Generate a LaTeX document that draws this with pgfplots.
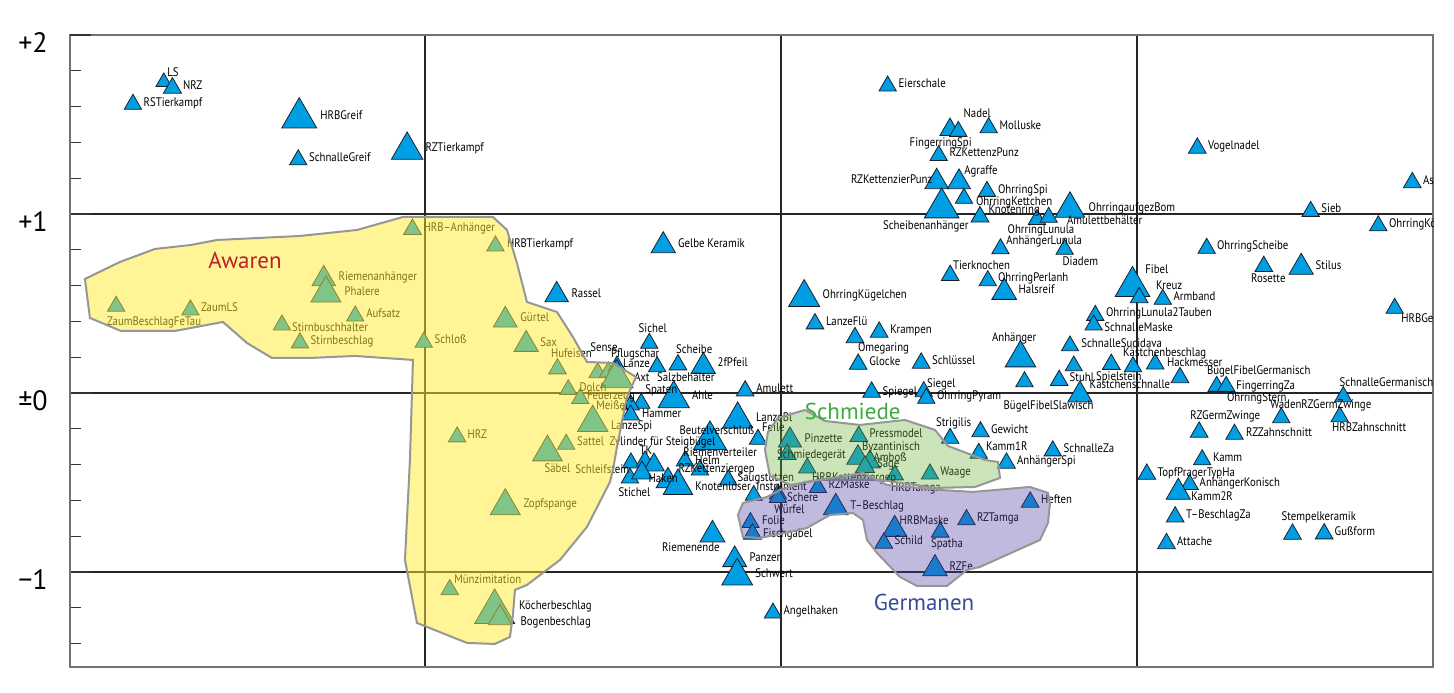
\documentclass[border=0pt]{standalone}
\usepackage{pgfplots}
\pgfplotsset{compat=1.18}
\usepackage{pgfplotstable}
\usepackage{fontspec}
\setmainfont{PT Sans}
\newfontfamily\labfont[FakeStretch=0.87]{PT Sans}

\definecolor{triblue}{RGB}{0,159,227}
\definecolor{outl}{RGB}{25,30,45}
\definecolor{awfill}{RGB}{255,235,45}
\definecolor{smfill}{RGB}{107,178,55}
\definecolor{gmfill}{RGB}{75,60,160}
\definecolor{regedge}{RGB}{150,150,150}
\definecolor{awtext}{RGB}{190,30,40}
\definecolor{smtext}{RGB}{60,170,60}
\definecolor{gmtext}{RGB}{55,75,155}

% positions measured on the reference (pixels), converted by the filters below
\pgfplotstableread{
x y r
163.8 82 4.5
172.5 88 5.2
133 104.3 5
299.3 117.9 10.1
298.3 159.8 5
407.2 150.2 9.1
887.7 86 5
950 129.7 5.8
958.3 131.4 5
988.7 127.7 5
938.7 155.5 5
936.7 181.9 6.8
959 182.1 6.6
987 191.4 5
964 198.3 5
941.7 207.9 10
980 216.9 5.2
1037 219.5 5
1048.7 217.3 5
1070 208.8 8.5
1197.3 148.1 5.1
1310.7 211.4 5
1412.3 182.6 5.1
1378.3 225.8 5
116.2 306.2 5
190.5 310 5
323.8 279 6.8
326 293.4 8.7
355.3 316 5
282 325 5
300 342.9 5
412.5 229.4 5.2
495.5 246 5
663.3 245.7 7
556.7 295 6.8
505.3 320.2 6.9
526.2 344.4 7
423.8 342.2 5
557.5 368.8 5.1
597.7 372.7 5
608.3 372 5
617 366 5
616.7 378.3 9.4
568.3 389.5 4.9
580.3 398.5 5
592.8 422.8 8.8
457.2 436.9 5
566.2 444.2 5
547.5 452.3 8.6
505.3 506.1 8.7
449.8 589.8 5.1
494.7 612 11.5
500 618 6.8
804.2 297.6 9
815 323.8 5.1
879.2 332.1 5.1
855 337.6 5.1
858.2 364.2 5.1
921.2 363.1 5.1
950.2 275.4 5.1
987.8 280.7 5
1004.2 292.3 7.1
1000.5 248.8 5
1064.7 249.3 5
1020.5 358.1 8.8
1024.5 381.7 5
1059.2 380.4 5.1
1070 345.8 4.9
1073.8 365.8 4.9
1080 395 7
1206.7 248.3 5
1263.8 266.4 5.1
1301.2 267.3 7
1394.7 308.3 5
1441 276 5
1132.5 286.5 10
1139.2 297.6 5.1
1162.8 299.3 5
1095.3 315.4 5
1093.7 325 5
1133 366.7 5
1111.3 364.3 5.1
1155.2 364 5.1
1180 377.6 5.1
1216.7 386.4 5
1226.2 386.4 5
1343.3 396.7 5
1281.3 417.7 5
1339.7 416.7 5
1199.2 432.1 5.1
1234.5 434.2 5
1202.2 459.8 5
1052.8 450.9 5
1146.8 474.2 5.1
1189.7 484.5 5
1178.3 492.3 7
1175.2 516.9 5.1
1166.5 543.6 5.1
1292.5 534.2 5.1
1324.2 533.8 5.1
930 474 5
1006.5 463.1 5.1
818 487.6 5
895 475 4.9
778 494 5
778 497.6 5
750.5 522.6 5
752.5 534 5.2
835.8 507.6 7.1
894.7 529.4 7
883.8 543.1 5.1
940.2 532.1 5.1
966.5 519.8 5.1
1030.2 502.1 5.1
935 568.8 7.1
734.7 559.8 6.9
737.2 576.1 8.9
773 613.1 5
790 440.4 6.7
787.2 454.4 5.2
858.8 436.4 5.1
858 457.8 6.5
870 462 6
865 467 5.5
807.3 468 5
950.2 438.3 5
980.5 431.7 5
978.8 453.3 5
923.8 391.7 5
926.3 398.3 5
871.7 392.1 5.1
745.2 390.9 5.1
737.7 419.4 8.7
758 439.3 5
710 440 9.5
712.5 534.8 7.2
649.3 343.3 5
678 364.8 5.1
703.3 366.4 7
657.2 366.7 5
673.8 398.8 9
641.3 403.3 5
630.7 405 5
630.7 415 5
728.3 480 5
753.8 495.3 4.9
631 463 5
645 461 5
654 465 6
630 478 5
642 473 6
668 481 6.8
678 486 8.5
685 461 5
700 470 5
}\tris

\pgfplotstableread[col sep=comma]{
x,y,t
167,72,LS
182.7,85,NRZ
143.3,102.3,RSTierkampf
320,115.3,HRBGreif
308.7,157,SchnalleGreif
425.3,147,RZTierkampf
898.3,83.3,Eierschale
963.3,113.3,Nadel
909.3,142.3,FingerringSpi
999.3,125.3,Molluske
949.3,152.3,RZKettenzPunz
850.7,179.3,RZKettenzierPunz
964,170.3,Agraffe
997.7,189.3,OhrringSpi
975.7,201.3,OhrringKettchen
882.7,225.3,Scheibenanhänger
988.3,209.3,Knotenring
1007.3,229.3,OhrringLunula
1066.7,220,Amulettbehälter
1088.3,206.7,OhrringaufgezBom
1207.7,145.3,Vogelnadel
1321,208.3,Sieb
1422.7,180,As
1388.7,223.3,OhrringKö
106.7,321,ZaumBeschlagFeTau
200.7,307.3,ZaumLS
338.3,276,Riemenanhänger
344.3,291.3,Phalere
366,313.3,Aufsatz
291.7,327.3,Stirnbuschhalter
310.3,340.3,Stirnbeschlag
423.3,227.3,HRB–Anhänger
506.7,243.3,HRBTierkampf
677.7,243.3,Gelbe Keramik
571.3,293.3,Rassel
520,317.3,Gürtel
540,341.7,Sax
434.3,339.3,Schloß
550.7,353.3,Hufeisen
590,347.3,Sense
610.7,353.3,Pflugschar
622.7,363.3,Lanze
634,376.7,Axt
579.3,386.7,Dolch
586.7,395,Feuerzeug
596,405,Meißel
610.7,425,LanzeSpi
467.3,434,HRZ
576.7,440.7,Sattel
544.3,468,Säbel
575,469.3,Schleifstein
523.3,503.3,Zopfspange
454,579,Münzimitation
518.7,605.3,Köcherbeschlag
520.3,621.3,Bogenbeschlag
822.3,294,OhrringKügelchen
825.7,321,LanzeFlü
890,329.3,Krampen
857.7,346.7,Omegaring
869,361,Glocke
931.7,360,Schlüssel
952.7,265,Tierknochen
997.7,277.3,OhrringPerlanh
1018.3,289.3,Halsreif
1006,240,AnhängerLunula
1062.3,261,Diadem
991.7,337.3,Anhänger
1003.3,405,BügelFibelSlawisch
1069.3,376.7,Stuhl
1081,343.3,SchnalleSucidava
1095.7,375.7,Spielstein
1089.3,384.3,Kästchenschnalle
1216.7,245,OhrringScheibe
1250.7,278.3,Rosette
1315.3,265,Stilus
1401,317.7,HRBGe
1145,269.3,Fibel
1155.7,285,Kreuz
1173.3,296,Armband
1105.7,312.3,OhrringLunula2Tauben
1104,327.3,SchnalleMaske
1122.7,351.7,Kästchenbeschlag
1166.7,361.7,Hackmesser
1206.7,370,BügelFibelGermanisch
1236,385,FingerringZa
1226.7,396.7,OhrringStern
1339.3,381.7,SchnalleGermanisch
1270,404,WadenRZGermZwinge
1331.7,426.7,HRBZahnschnitt
1190,415,RZGermZwinge
1245.7,431.7,RZZahnschnitt
1212.7,456.7,Kamm
1063.3,448.3,SchnalleZa
1157.3,472.3,TopfPragerTypHa
1199.3,482.3,AnhängerKonisch
1191,496,Kamm2R
1185.7,514,T–BeschlagZa
1176.7,541.3,Attache
1281.3,516,Stempelkeramik
1334.3,531,Gußform
940,471,Waage
1016.7,460,AnhängerSpi
737.3,476.7,Saugstutzen
811.7,476.7,HRBKettenziergep
828.3,484,RZMaske
890.7,487.3,HRBTamga
756,486,Instrument
695,486,Knotenlöser
786.7,497.3,Schere
774,509.3,Würfel
761.7,520,Folie
762.7,532.7,Fischgabel
850,505,T–Beschlag
899.3,520,HRBMaske
894.3,540,Schild
930.7,543.3,Spatha
976.7,517.3,RZTamga
1040.7,499.3,Heften
949.3,566,RZFe
749.3,557.3,Panzer
755,573.3,Schwert
783.3,610,Angelhaken
804.3,438.3,Pinzette
776.7,454,Schmiedegerät
869.3,432.7,Pressmodel
861.7,446,Byzantinisch
873.3,456.7,Amboß
876.7,463.3,Säge
935.7,422.3,Strigilis
990.7,429.3,Gewicht
985.7,446,Kamm1R
926.7,382.7,Siegel
936.7,395,OhrringPyram
882.3,390.7,Spiegel
756,388.3,Amulett
755.7,416.7,LanzeBl
761.7,426.7,Feile
679.3,430,Beutelverschluß
683,451.7,Riemenverteiler
609.3,441,Zylinder für Steigbügel
639.3,450,TK
695,460,Helm
678.3,468.3,RZKettenziergep
648.3,478.3,Haken
618.3,492.3,Stichel
661.7,547.3,Riemenende
638.3,328.3,Sichel
675.7,349,Scheibe
717.3,362.5,2fPfeil
656.7,376.7,Salzbehälter
691.7,395,Ahle
645,389.3,Spaten
641.7,412.7,Hammer
}\labs

\pgfplotsset{pix/.style={x filter/.expression={(x-781)/178}, y filter/.expression={(393-y)/179}}}

\begin{document}
\begin{tikzpicture}
\begin{axis}[
  scale only axis, width=681.5pt, height=316pt,
  xmin=-3.994, xmax=3.663, ymin=-1.531, ymax=2,
  axis line style={draw=black!55, line width=0.8pt},
  xtick={-2,0,2}, xticklabels={}, x tick style={draw=none},
  ytick={-1,0,1}, yticklabels={−1,±0,+1},
  extra y ticks={2}, extra y tick labels={+2}, extra y tick style={grid=none},
  minor ytick={-1.4,-1.2,-0.8,-0.6,-0.4,-0.2,0.2,0.4,0.6,0.8,1.2,1.4,1.6,1.8},
  ytick pos=left, tick align=inside,
  major tick length=10.5pt, minor tick length=5.5pt,
  y tick style={black!80, line width=0.6pt},
  grid=major, major grid style={black!85, line width=0.6pt},
  yticklabel style={font=\fontsize{14}{15}\selectfont, anchor=east, xshift=-7.6pt, yshift=-3.8pt},
  clip marker paths=true,
]
\coordinate (SW) at (rel axis cs:0,0);
\coordinate (NE) at (rel axis cs:1,1);

\addplot[scatter, only marks, mark=triangle*, pix,
  scatter/use mapped color={draw=outl, fill=triblue},
  visualization depends on={\thisrow{r} \as \rr},
  scatter/@pre marker code/.append style={/tikz/mark size=\rr pt, /tikz/line width=0.5pt}]
  table[x=x, y=y] {\tris};

\addplot[draw=none, mark=none, pix, nodes near coords, point meta=explicit symbolic,
  every node near coord/.style={anchor=base west, inner sep=0pt, yshift=-2.2pt,
    font=\labfont\fontsize{6.2}{7}\selectfont, text=black}]
  table[x=x, y=y, meta=t] {\labs};

% Awaren
\addplot[pix, fill=awfill, fill opacity=0.5, draw=regedge, line width=1pt] coordinates {
(85,279) (120,262) (155,249) (191,245) (217,240) (300,236) (357,230) (403,217) (493,217)
(507,230) (517,263) (527,302) (557,312) (573,337) (587,362) (613,363) (636,377) (627,397)
(623,417) (617,447) (613,470) (610,482) (587,527) (560,560) (527,585) (515,590) (513,615)
(510,637) (495,644) (467,643) (417,623) (405,560) (410,460) (413,360) (355,356) (310,358)
(272,358) (247,343) (223,322) (175,331) (121,331) (90,318)} -- cycle;

% Schmiede
\addplot[pix, fill=smfill, fill opacity=0.35, draw=regedge, line width=1pt] coordinates {
(768,432) (778,418) (805,410) (825,421) (860,425) (905,420) (935,430) (948,446) (985,460)
(998,462) (1000,478) (975,487) (935,488) (880,480) (820,480) (790,485) (770,476) (765,450)} -- cycle;

% Germanen
\addplot[pix, fill=gmfill, fill opacity=0.35, draw=regedge, line width=1pt] coordinates {
(738,515) (743,503) (767,497) (780,490) (805,482) (820,480) (863,473) (887,485) (940,490)
(973,492) (1030,487) (1048,493) (1050,503) (1048,523) (1040,540) (980,567) (967,570)
(947,586) (917,586) (900,577) (877,553) (867,540) (863,520) (853,513) (830,515) (807,528)
(790,532) (760,538) (743,537)} -- cycle;

\node[anchor=west, inner sep=0pt, text=awtext, font=\fontsize{11.5}{12}\selectfont] at (axis cs:-3.219,0.743) {Awaren};
\node[anchor=west, inner sep=0pt, text=smtext, font=\fontsize{11.5}{12}\selectfont] at (axis cs:0.132,-0.104) {Schmiede};
\node[anchor=west, inner sep=0pt, text=gmtext, font=\fontsize{11.5}{12}\selectfont] at (axis cs:0.519,-1.172) {Germanen};
\end{axis}
\pgfresetboundingbox
\path ([shift={(-35pt,-13pt)}]SW) rectangle ([shift={(10.5pt,17.5pt)}]NE);
\end{tikzpicture}
\end{document}
